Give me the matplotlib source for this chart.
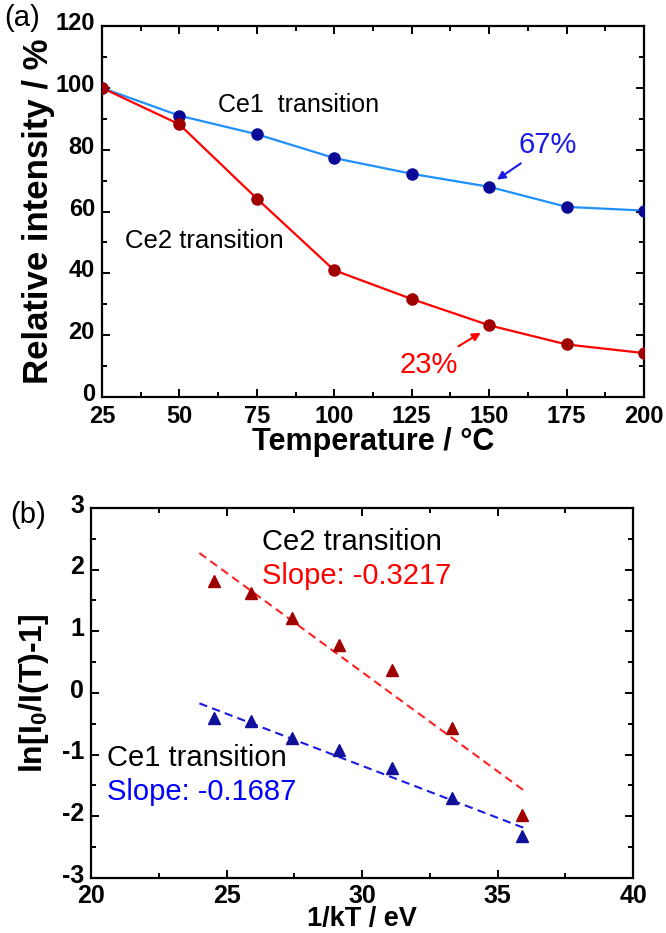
import numpy as np
import matplotlib
matplotlib.use("Agg")
import matplotlib.pyplot as plt
from matplotlib.ticker import MultipleLocator
from matplotlib.transforms import ScaledTranslation

plt.rcParams['font.family'] = ['Liberation Sans', 'DejaVu Sans']
plt.rcParams['mathtext.default'] = 'regular'
plt.rcParams['axes.unicode_minus'] = False

# panel (a): relative intensity vs temperature
temp_c = [25, 50, 75, 100, 125, 150, 175, 200]
ce1_int = [100, 91, 85, 77.3, 72.2, 68, 61.5, 60.3]
ce2_int = [100, 88.2, 64.2, 41, 31.7, 23.2, 17, 14.2]

# panel (b): Arrhenius-type plot
inv_kt = [24.53, 25.90, 27.43, 29.15, 31.10, 33.33, 35.91]
ce2_ln = [1.82, 1.62, 1.22, 0.78, 0.37, -0.57, -1.98]
ce1_ln = [-0.40, -0.45, -0.73, -0.93, -1.21, -1.70, -2.32]
ce2_slope, ce2_icpt = -0.3217, 9.99
ce1_slope, ce1_icpt = -0.1687, 3.88
fit_x = [24.0, 35.95]

fig = plt.figure(figsize=(6.66, 9.33), dpi=100)
ax1 = fig.add_axes([0.153, 0.5745, 0.814, 0.3976])
ax2 = fig.add_axes([0.1366, 0.059, 0.814, 0.3966])


def style_axes(ax, fs, xpad):
    for s in ax.spines.values():
        s.set_linewidth(1.6)
    ax.tick_params(which='both', direction='in', top=True, right=True,
                   width=1.4)
    ax.tick_params(which='major', length=6, labelsize=fs)
    ax.tick_params(axis='x', which='major', pad=xpad)
    ax.tick_params(axis='y', which='major', pad=5)
    ax.tick_params(which='minor', length=3.5)
    # y tick labels sit a bit above the ticks in the original
    shift = ScaledTranslation(0, 3.5 / 72, fig.dpi_scale_trans)
    for lab in ax.get_yticklabels():
        lab.set_transform(lab.get_transform() + shift)
    for lab in ax.get_xticklabels() + ax.get_yticklabels():
        lab.set_fontweight('bold')


# ---- (a)
ax1.plot(temp_c, ce1_int, '-', color='#1e90ff', lw=1.6, zorder=2)
ax1.plot(temp_c, ce1_int, 'o', color='#0a0a96', ms=8, zorder=3)
ax1.plot(temp_c, ce2_int, '-', color='#ff0000', lw=1.6, zorder=2)
ax1.plot(temp_c, ce2_int, 'o', color='#a00000', ms=8, zorder=3)
ax1.set_xlim(25, 200)
ax1.set_ylim(0, 120)
ax1.xaxis.set_major_locator(MultipleLocator(25))
ax1.xaxis.set_minor_locator(MultipleLocator(12.5))
ax1.yaxis.set_major_locator(MultipleLocator(20))
ax1.yaxis.set_minor_locator(MultipleLocator(10))
style_axes(ax1, 17, 6)
ax1.set_xlabel('Temperature / °C', fontsize=22, fontweight='bold', labelpad=-1)
ax1.set_ylabel('Relative intensity / %', fontsize=25, fontweight='bold', labelpad=0)
ax1.text(62.5, 94.5, 'Ce1  transition', fontsize=18, va='center')
ax1.text(32.5, 50.5, 'Ce2 transition', fontsize=18.5, va='center')
ax1.annotate('67%', xy=(152.5, 70.3), xytext=(159.5, 81.5), color='#1a1ae6',
             fontsize=21, va='center',
             arrowprops=dict(arrowstyle='-|>', color='#1a1ae6', lw=1.5,
                             mutation_scale=12, shrinkA=2, shrinkB=0))
ax1.annotate('23%', xy=(147.3, 20.8), xytext=(121, 10.5), color='#ff0000',
             fontsize=21, va='center',
             arrowprops=dict(arrowstyle='-|>', color='#ff0000', lw=1.5,
                             mutation_scale=12, shrinkA=2, shrinkB=0))
fig.text(0.006, 0.981, '(a)', fontsize=21, va='center')

# ---- (b)
fx = np.array(fit_x)
ax2.plot(fx, ce2_icpt + ce2_slope * fx, '--', color='#ff2020', lw=1.5, dashes=(4, 2.5))
ax2.plot(fx, ce1_icpt + ce1_slope * fx, '--', color='#1a1ae0', lw=1.5, dashes=(4, 2.5))
ax2.plot(inv_kt, ce2_ln, '^', color='#a00000', ms=8, ls='none')
ax2.plot(inv_kt, ce1_ln, '^', color='#10109a', ms=8, ls='none')
ax2.set_xlim(20, 40)
ax2.set_ylim(-3, 3)
ax2.xaxis.set_major_locator(MultipleLocator(5))
ax2.xaxis.set_minor_locator(MultipleLocator(2.5))
ax2.yaxis.set_major_locator(MultipleLocator(1))
ax2.yaxis.set_minor_locator(MultipleLocator(0.5))
style_axes(ax2, 18, 4)
ax2.set_xlabel('1/kT / eV', fontsize=19.5, fontweight='bold', labelpad=-1)
ax2.set_ylabel('ln[I$_0$/I(T)-1]', fontsize=23, fontweight='bold', labelpad=8)
ax2.text(26.3, 2.44, 'Ce2 transition', fontsize=21, va='center')
ax2.text(26.3, 1.9, 'Slope: -0.3217', fontsize=21, va='center', color='#ff0000')
ax2.text(20.6, -1.06, 'Ce1 transition', fontsize=21, va='center')
ax2.text(20.6, -1.6, 'Slope: -0.1687', fontsize=21, va='center', color='#0000ff')
fig.text(0.016, 0.448, '(b)', fontsize=21, va='center')

fig.savefig('out.png', dpi=100)
